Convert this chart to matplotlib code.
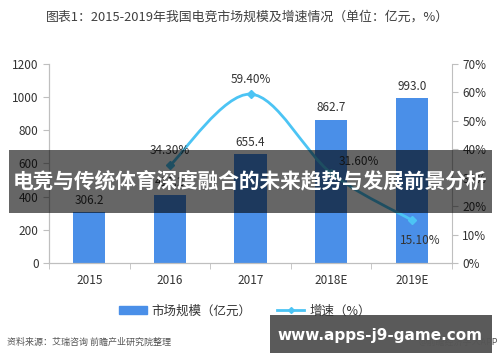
import numpy as np
import matplotlib.pyplot as plt
from matplotlib.patches import Rectangle, Patch
from matplotlib.lines import Line2D
from matplotlib.path import Path
from matplotlib.patches import PathPatch

plt.rcParams['font.family'] = ['Noto Sans CJK SC', 'DejaVu Sans']

years = ["2015", "2016", "2017", "2018E", "2019E"]
market = [306.2, 411.2, 655.4, 862.7, 993.0]
growth_years = [1, 2, 3, 4]
growth = [34.3, 59.4, 31.6, 15.1]
growth_labels = ["34.30%", "59.40%", "31.60%", "15.10%"]

bar_color = "#4a8fe8"
line_color = "#4cc4f4"

fig = plt.figure(figsize=(5, 3.62), dpi=100)
ax = fig.add_axes([0.098, 0.2735, 0.806, 0.5497])
ax2 = ax.twinx()

x = np.arange(len(years))
ax.bar(x, market, width=0.4, color=bar_color, zorder=2)
for xi, v in zip(x, market):
    ax.annotate(f"{v:.1f}", (xi, v), xytext=(0, 4), textcoords="offset points",
                ha="center", va="bottom", fontsize=8.5, color="#333333")

ax.set_xlim(-0.5, len(years) - 0.5)
ax.set_ylim(0, 1200)
ax.set_yticks(range(0, 1201, 200))
ax.set_xticks(x)
ax.set_xticklabels(years)
ax.set_xticks(np.arange(-0.5, len(years), 1), minor=True)
ax.tick_params(axis="x", which="major", length=0, pad=8, labelsize=8.5, colors="#333333")
ax.tick_params(axis="x", which="minor", length=4, color="#bfbfbf")
ax.tick_params(axis="y", length=4, color="#bfbfbf", labelsize=8.5, labelcolor="#333333")

ax2.set_ylim(0, 70)
ax2.set_yticks(range(0, 71, 10))
ax2.set_yticklabels([f"{v}%" for v in range(0, 71, 10)])
ax2.tick_params(axis="y", length=4, color="#bfbfbf", labelsize=8.5, labelcolor="#333333")

for a in (ax, ax2):
    a.spines["top"].set_visible(False)
    for s in ("left", "right", "bottom"):
        a.spines[s].set_color("#bfbfbf")
ax.spines["right"].set_visible(False)

# smoothed growth line (Excel-style bezier through the points)
gx = np.array(growth_years, dtype=float)
gy = np.array(growth, dtype=float)
px = np.concatenate([[gx[0]], gx, [gx[-1]]])
py = np.concatenate([[gy[0]], gy, [gy[-1]]])
verts = [(gx[0], gy[0])]
codes = [Path.MOVETO]
for i in range(len(gx) - 1):
    c1 = (px[i + 1] + (px[i + 2] - px[i]) / 6, py[i + 1] + (py[i + 2] - py[i]) / 6)
    c2 = (px[i + 2] - (px[i + 3] - px[i + 1]) / 6, py[i + 2] - (py[i + 3] - py[i + 1]) / 6)
    verts += [c1, c2, (gx[i + 1], gy[i + 1])]
    codes += [Path.CURVE4] * 3
ax2.add_patch(PathPatch(Path(verts, codes), fill=False, edgecolor=line_color, lw=2, zorder=3))
ax2.plot(gx, gy, ls="none", marker="D", ms=4, color=line_color, zorder=4)

offsets = [(0, 6), (0, 6), (20, 4), (6, -10)]
vas = ["bottom", "bottom", "bottom", "top"]
for xi, v, lab, off, va in zip(gx, gy, growth_labels, offsets, vas):
    ax2.annotate(lab, (xi, v), xytext=off, textcoords="offset points",
                 ha="center", va=va, fontsize=8.5, color="#333333")

fig.text(0.495, 0.953, "图表1：2015-2019年我国电竞市场规模及增速情况（单位：亿元，%）",
         ha="center", va="center", fontsize=9.3, color="#404040")

handles = [Patch(color=bar_color),
           Line2D([0], [0], color=line_color, lw=2, marker="D", ms=3)]
fig.legend(handles, ["市场规模（亿元）", "增速（%）"], loc="center",
           bbox_to_anchor=(0.49, 0.141), ncol=2, frameon=False, fontsize=9,
           handlelength=2.2, handleheight=0.5, columnspacing=2.0, handletextpad=0.4,
           labelcolor="#333333")

fig.text(0.014, 0.055, "资料来源：艾瑞咨询 前瞻产业研究院整理", ha="left", va="center",
         fontsize=6.5, color="#555555")
fig.text(0.996, 0.055, "@前瞻经济学人APP", ha="right", va="center",
         fontsize=6.5, color="#555555")

# overlay banners
fig.patches.append(Rectangle((0.018, 0.4116), 0.966, 0.174, transform=fig.transFigure,
                             facecolor="black", alpha=0.6, edgecolor="none", zorder=5))
fig.text(0.5, 0.5, "电竞与传统体育深度融合的未来趋势与发展前景分析", ha="center", va="center",
         fontsize=14.9, fontweight="bold", color="white", zorder=6)
fig.patches.append(Rectangle((0.54, 0.025), 0.444, 0.105, transform=fig.transFigure,
                             facecolor="#555555", alpha=0.97, edgecolor="none", zorder=5))
fig.text(0.76, 0.072, "www.apps-j9-game.com", ha="center", va="center",
         fontsize=11, fontweight="bold", color="white", family="DejaVu Sans", zorder=6)

fig.savefig("out.png", dpi=100)
